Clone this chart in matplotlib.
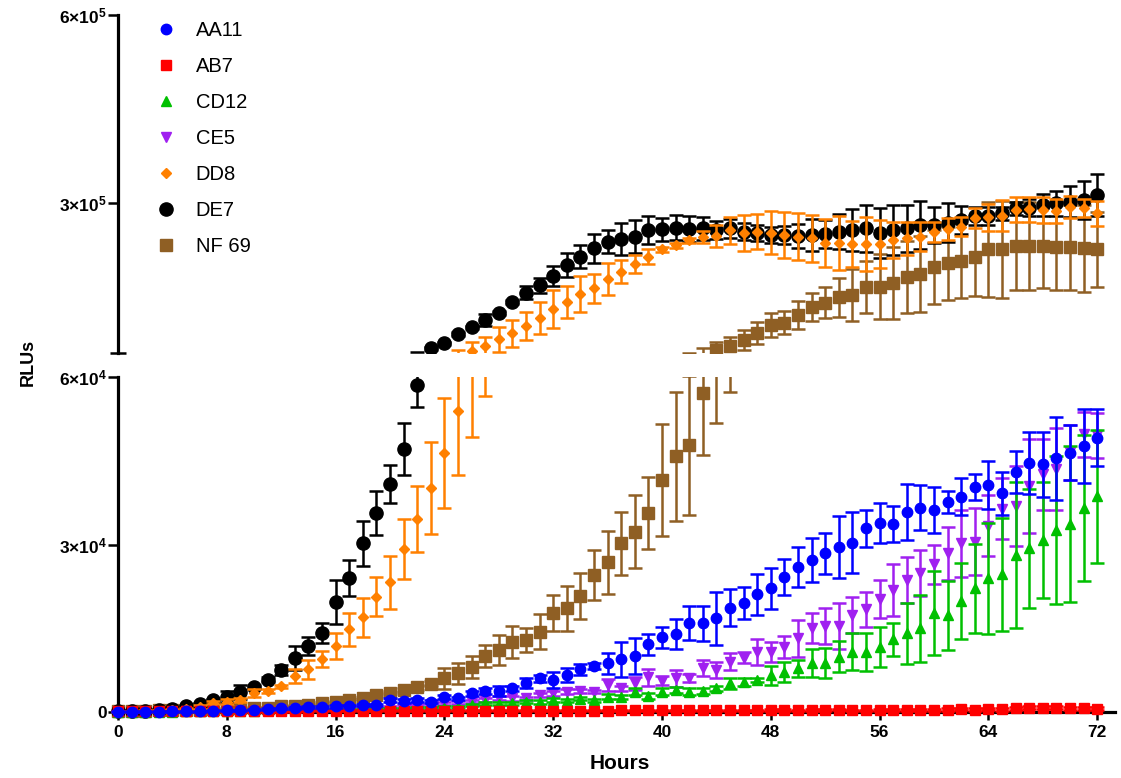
import numpy as np
import matplotlib
matplotlib.use('Agg')
import matplotlib.pyplot as plt
from matplotlib.lines import Line2D

plt.rcParams['font.family'] = ['Liberation Sans', 'DejaVu Sans']
plt.rcParams['mathtext.fontset'] = 'custom'
plt.rcParams['mathtext.rm'] = 'Liberation Sans:bold'
plt.rcParams['mathtext.it'] = 'Liberation Sans:bold'
plt.rcParams['mathtext.bf'] = 'Liberation Sans:bold'
plt.rcParams['mathtext.default'] = 'rm'

# sampling every hour, 0..72 h
hours = list(range(73))

aa11 = [50, 50, 50, 50, 100, 100, 150, 200, 300, 350,
        400, 600, 650, 750, 950, 950, 1000, 1150, 1250, 1250,
        2150, 1950, 2150, 1850, 2740, 2450, 3340, 3820, 3820, 4240,
        5130, 6030, 5730, 6630, 7640, 8240, 8720, 9430, 10080, 12120,
        13370, 13970, 15880, 15880, 16780, 18690, 19470, 21080, 22150, 24230,
        26020, 27220, 28420, 29610, 30330, 32900, 33910, 33680, 35770, 36600,
        36190, 37680, 38570, 40250, 40660, 39170, 43040, 44650, 44420, 45440,
        46440, 47640, 49130]
aa11_err = [50, 50, 50, 50, 50, 50, 80, 80, 80, 100,
            100, 150, 100, 150, 150, 200, 200, 150, 200, 250,
            300, 300, 300, 300, 400, 300, 400, 500, 900, 400,
            900, 600, 1490, 1190, 1040, 500, 1850, 3130, 3190, 1940,
            1940, 2630, 3040, 3100, 4780, 3280, 2870, 3730, 3670, 3190,
            3580, 4000, 3640, 5520, 5460, 3280, 3580, 3250, 5010, 4030,
            4120, 1970, 3280, 2330, 4270, 3880, 3730, 5580, 5820, 7460,
            4930, 6630, 5130]

ab7 = [100, 100, 100, 100, 100, 100, 100, 100, 150, 150,
       150, 150, 150, 150, 200, 200, 200, 200, 200, 200,
       200, 200, 200, 200, 200, 200, 250, 250, 250, 200,
       250, 250, 250, 250, 250, 250, 250, 300, 300, 300,
       300, 300, 300, 300, 300, 300, 300, 300, 350, 350,
       300, 350, 350, 450, 300, 300, 350, 400, 400, 400,
       400, 450, 500, 450, 500, 500, 650, 750, 750, 750,
       700, 700, 600]
ab7_err = [50, 50, 50, 50, 50, 50, 50, 50, 60, 60,
           60, 60, 60, 60, 80, 80, 80, 80, 80, 80,
           80, 80, 80, 80, 80, 80, 100, 100, 100, 100,
           100, 100, 100, 100, 100, 100, 100, 120, 120, 120,
           120, 120, 120, 120, 120, 120, 120, 150, 150, 150,
           150, 150, 200, 150, 150, 150, 200, 200, 200, 200,
           200, 200, 200, 200, 200, 250, 250, 250, 250, 250,
           250, 250, 250]

cd12 = [50, 50, 50, 50, 50, 100, 100, 100, 150, 150,
        200, 300, 300, 350, 400, 400, 450, 500, 500, 550,
        600, 650, 700, 750, 800, 950, 1250, 1560, 1500, 1560,
        1850, 1800, 2150, 2030, 2400, 2100, 2750, 2690, 3640, 2870,
        3640, 3940, 3640, 3800, 4240, 5130, 5350, 5730, 6630, 7220,
        7820, 8720, 8720, 9900, 10800, 10800, 11700, 13010, 14090, 14980,
        17670, 17370, 19880, 22150, 23940, 24650, 28100, 29300, 30790, 32580,
        33660, 36580, 38670]
cd12_err = [30, 30, 30, 30, 30, 50, 50, 50, 50, 50,
            80, 80, 80, 100, 100, 100, 120, 120, 120, 150,
            150, 150, 150, 200, 200, 200, 200, 250, 250, 250,
            300, 300, 300, 300, 300, 300, 400, 400, 600, 500,
            600, 500, 600, 500, 500, 1000, 700, 400, 1700, 1800,
            1550, 2500, 2690, 2780, 3280, 3370, 3580, 2990, 5460, 6030,
            7520, 6180, 6870, 7910, 10000, 10090, 13040, 10600, 10420, 13280,
            14030, 13040, 11910]

ce5 = [50, 50, 50, 50, 50, 100, 100, 150, 150, 200,
       200, 250, 300, 350, 400, 450, 500, 600, 700, 800,
       900, 1000, 1200, 1400, 1560, 1700, 1850, 2150, 2450, 2450,
       2450, 3040, 3340, 3640, 3800, 3640, 4830, 4240, 5130, 6210,
       5610, 6030, 6100, 7900, 7520, 9010, 9750, 10800, 10740, 11700,
       13190, 14980, 15400, 15400, 17370, 18390, 20240, 21850, 23640, 24950,
       26440, 28420, 30240, 30500, 33400, 36420, 36890, 40480, 42560, 43500,
       46510, 49730, 49610]
ce5_err = [30, 30, 30, 30, 30, 50, 50, 50, 50, 80,
           80, 80, 100, 100, 100, 120, 120, 150, 150, 150,
           200, 200, 200, 250, 300, 300, 300, 300, 350, 400,
           300, 400, 500, 400, 400, 300, 1000, 500, 1200, 1500,
           800, 1500, 800, 1500, 1500, 1550, 1000, 2300, 1850, 2000,
           3280, 2690, 3220, 4060, 3280, 3190, 3430, 4660, 4180, 4150,
           3430, 4780, 5970, 6030, 5520, 5460, 7160, 8500, 6420, 7310,
           4870, 4090, 4030]

dd8 = [100, 150, 200, 250, 350, 500, 900, 1670, 1850, 2150,
       3460, 3800, 4600, 6450, 7640, 9490, 11820, 14800, 16950, 20650,
       23220, 29190, 34560, 40170, 46440, 53900, 63200, 71200, 81900, 91500,
       103600, 115400, 129800, 141000, 153800, 163400, 178200, 190000, 202200, 213900,
       225600, 232500, 240500, 245300, 246900, 255700, 251200, 253800, 252000, 248500,
       245800, 243200, 236200, 236200, 234100, 234100, 234100, 240500, 243200, 245800,
       253800, 257600, 261800, 275200, 276800, 278900, 288500, 289500, 288500, 287000,
       292800, 292200, 283200]
dd8_err = [100, 100, 100, 100, 150, 200, 300, 300, 400, 300,
           700, 400, 300, 1200, 1700, 1400, 2400, 3000, 3500, 3450,
           4780, 5370, 5880, 8200, 9850, 11480, 14000, 14600, 20000, 21300,
           22600, 25800, 30300, 25800, 28500, 22900, 25300, 18600, 14600, 12200,
           4000, 4000, 4000, 10100, 17000, 21300, 28500, 28000, 34600, 36500,
           37300, 37300, 38600, 43400, 36700, 42600, 38600, 28500, 26600, 23000,
           16000, 17300, 14900, 16000, 21800, 24800, 20000, 20500, 20500, 19200,
           17300, 14600, 20000]

de7 = [150, 200, 250, 350, 550, 1000, 1400, 2100, 2700, 3550,
       4450, 5800, 7500, 9700, 11800, 14200, 19750, 23950, 30200, 35700,
       40800, 47100, 58500, 67500, 75500, 90350, 101000, 112700, 124400, 141500,
       156300, 168200, 183000, 200600, 213900, 227200, 237800, 241600, 245800, 256500,
       257600, 260200, 258100, 259000, 256500, 259200, 253800, 251200, 248500, 248500,
       246900, 248500, 250100, 253800, 256500, 259200, 251200, 256500, 259200, 264500,
       264500, 268200, 272500, 278900, 278900, 283200, 291200, 292200, 296400, 299200,
       301700, 304400, 312400]
de7_err = [100, 100, 100, 150, 200, 200, 300, 300, 1000, 1300,
           400, 500, 900, 2150, 1670, 1800, 3900, 3200, 4000, 3970,
           3400, 4700, 3800, 2000, 2500, 2500, 2500, 9900, 3000, 3000,
           10100, 12000, 16000, 18700, 18700, 23400, 18700, 25300, 26600, 22100,
           18100, 20000, 21300, 18000, 15000, 15000, 14000, 13000, 12000, 15000,
           19000, 25000, 23000, 28000, 33000, 38000, 40000, 40000, 38000, 38000,
           29000, 31000, 22000, 15000, 14000, 10000, 10000, 14000, 17000, 20000,
           25000, 31000, 33000]

nf69 = [150, 200, 250, 300, 350, 400, 450, 500, 550, 650,
        750, 800, 1000, 1150, 1300, 1550, 1850, 2150, 2500, 3100,
        3500, 3940, 4400, 5100, 6030, 6930, 8120, 10030, 11100, 12600,
        12900, 14380, 17790, 18570, 20780, 24540, 26800, 30200, 32300, 35700,
        41550, 45850, 47800, 57080, 64800, 71200, 80800, 91400, 104700, 108400,
        120700, 134000, 140400, 149000, 152700, 165900, 165900, 171400, 181000, 186200,
        197900, 203300, 207500, 213900, 225700, 225700, 231400, 231400, 231400, 228900,
        228900, 227300, 225700]
nf69_err = [50, 50, 50, 50, 80, 80, 80, 100, 100, 100,
            120, 120, 150, 150, 150, 200, 200, 200, 250, 250,
            300, 400, 400, 500, 1850, 1940, 1940, 2000, 2690, 2840,
            2090, 3130, 3250, 4000, 4180, 4420, 5670, 5670, 6570, 6420,
            10030, 11550, 12450, 11050, 13100, 13900, 16000, 17300, 19700, 18100,
            22100, 22600, 24800, 31400, 41800, 41500, 52200, 57200, 57800, 60400,
            59100, 58600, 60400, 62400, 75900, 77200, 70000, 70000, 68000, 68000,
            68000, 69200, 60000]

names = ['AA11', 'AB7', 'CD12', 'CE5', 'DD8', 'DE7', 'NF 69']
means = [aa11, ab7, cd12, ce5, dd8, de7, nf69]
errs = [aa11_err, ab7_err, cd12_err, ce5_err, dd8_err, de7_err, nf69_err]
colors = ['#0000FF', '#FF0000', '#00C000', '#A020F0', '#FF8000', '#000000', '#8F5F24']
markers = ['o', 's', '^', 'v', 'D', 'o', 's']
msizes = [7.5, 7.5, 7, 7, 5.5, 9.5, 9]

BREAK = 6e4

fig = plt.figure(figsize=(11.21, 7.78), dpi=100)
ax_top = fig.add_axes([0.0907, 0.5463, 0.9038, 0.4344])
ax_bot = fig.add_axes([0.0907, 0.0740, 0.9038, 0.4414])

for ax in (ax_top, ax_bot):
    # first data set ends up on top
    for i in range(len(names) - 1, -1, -1):
        m = np.array(means[i], dtype=float)
        ax.errorbar(hours, m, yerr=errs[i], fmt='none', ecolor=colors[i],
                    elinewidth=1.8, capsize=5, capthick=1.8, zorder=10 - i)
        if ax is ax_top:
            m = np.where(m >= BREAK, m, np.nan)   # marker only shown if its centre is in the segment
        else:
            m = np.where(m <= BREAK, m, np.nan)
        ax.plot(hours, m, linestyle='none', marker=markers[i], color=colors[i],
                mec=colors[i], ms=msizes[i], zorder=10 - i)
    ax.set_xlim(-1.2, 73.3)
    ax.spines['top'].set_visible(False)
    ax.spines['right'].set_visible(False)
    ax.spines['left'].set_position(('data', 0))
    ax.spines['left'].set_linewidth(2.3)
    ax.tick_params(axis='y', which='major', direction='out', length=7, width=1.8,
                   labelsize=12.5, pad=1)
    ax.tick_params(axis='y', which='minor', direction='inout', length=11, width=1.8)

ax_top.spines['bottom'].set_visible(False)
ax_top.tick_params(axis='x', bottom=False, labelbottom=False)
ax_top.set_ylim(BREAK, 6e5)
ax_top.spines['left'].set_bounds(BREAK, 6e5)
ax_top.set_yticks([3e5, 6e5])
ax_top.set_yticklabels(['3×10$^{5}$', '6×10$^{5}$'], fontweight='bold')
ax_top.set_yticks([BREAK], minor=True)

ax_bot.set_ylim(-1500, BREAK)
ax_bot.spines['left'].set_bounds(0, BREAK)
ax_bot.spines['bottom'].set_position(('data', 0))
ax_bot.spines['bottom'].set_bounds(0, 73.3)
ax_bot.spines['bottom'].set_linewidth(2.3)
ax_bot.set_yticks([0, 3e4, 6e4])
ax_bot.set_yticklabels(['0', '3×10$^{4}$', '6×10$^{4}$'], fontweight='bold')
ax_bot.set_yticks([BREAK], minor=True)
ax_bot.set_xticks(list(range(0, 73, 8)))
ax_bot.set_xticklabels([str(h) for h in range(0, 73, 8)], fontweight='bold')
ax_bot.tick_params(axis='x', direction='out', length=6, width=1.8, labelsize=12.5, pad=3)

handles = [Line2D([], [], linestyle='none', marker=markers[i], color=colors[i],
                  mec=colors[i], ms=msizes[i]) for i in range(len(names))]
fig.legend(handles, names, loc='upper left', bbox_to_anchor=(0.1389, 0.9726),
           frameon=False, fontsize=14.5, handlelength=1.0, handletextpad=0.99,
           labelspacing=0.84, borderpad=0, borderaxespad=0)

fig.text(0.025, 0.5347, 'RLUs', rotation=90, ha='center', va='center',
         fontsize=13, fontweight='bold')
fig.text(0.553, 0.018, 'Hours', ha='center', va='center', fontsize=15, fontweight='bold')

fig.savefig('out.png', dpi=100)
